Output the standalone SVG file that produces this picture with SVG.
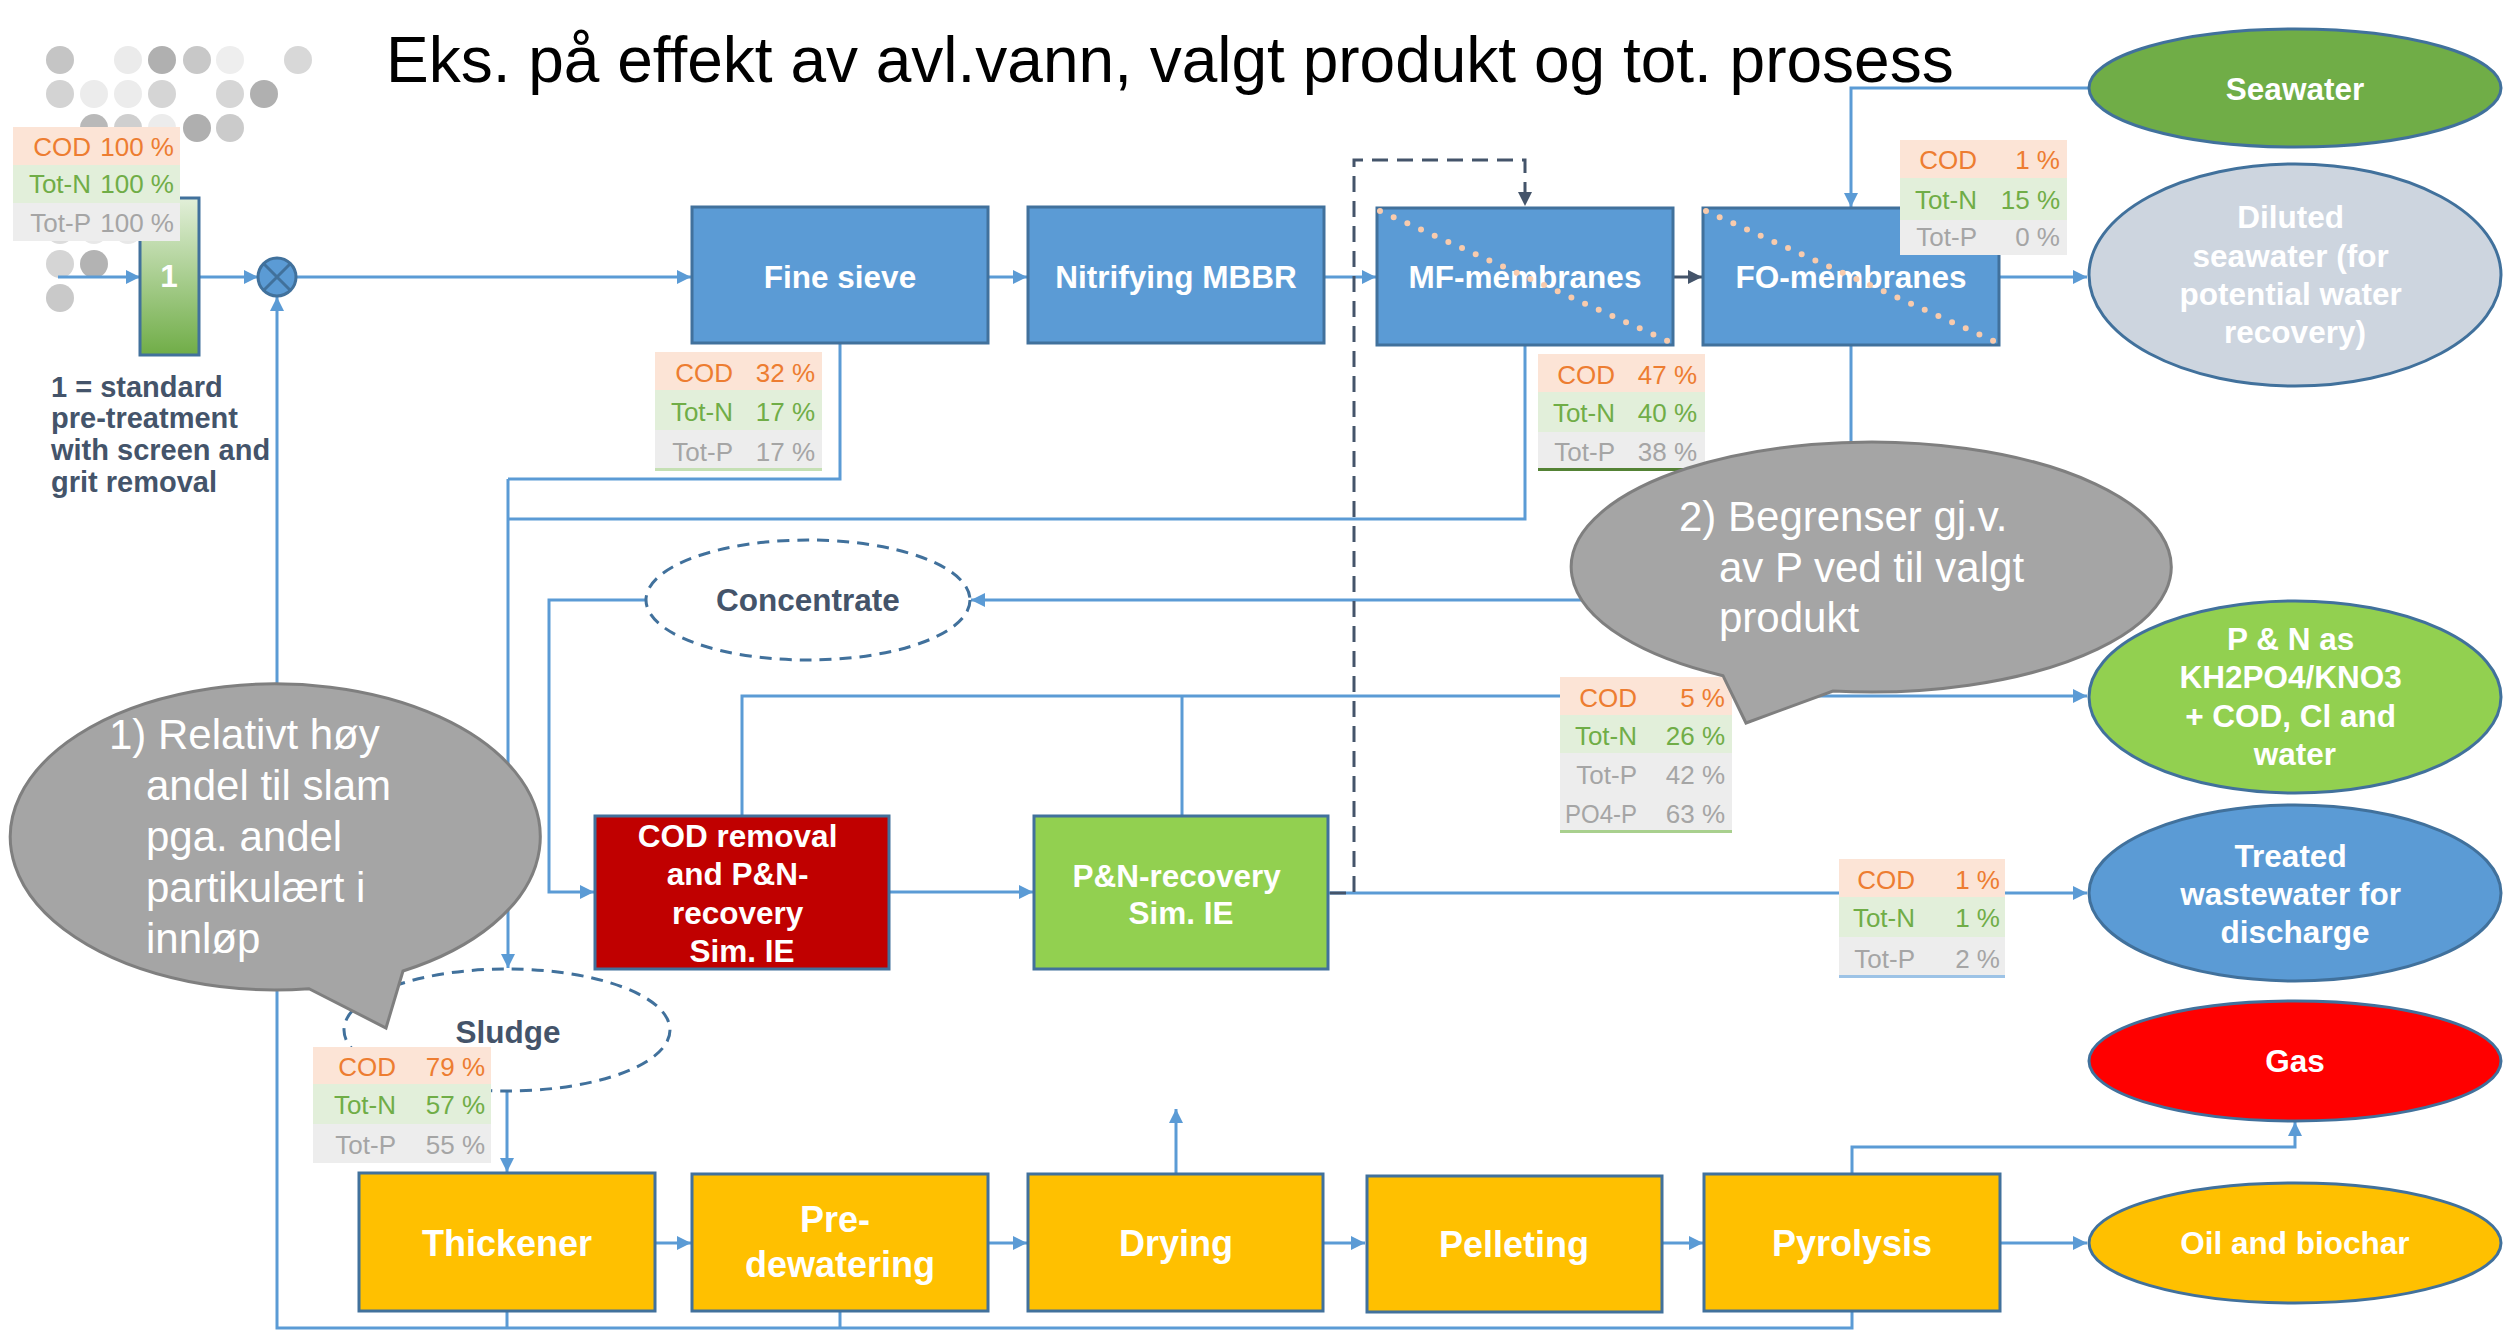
<svg xmlns="http://www.w3.org/2000/svg" width="2503" height="1332" viewBox="0 0 2503 1332">
<defs>
  <marker id="ah" viewBox="0 0 14 14" refX="14" refY="7" markerWidth="14" markerHeight="14" markerUnits="userSpaceOnUse" orient="auto">
    <path d="M0,0 L14,7 L0,14 z" fill="#5B9BD5"/>
  </marker>
  <marker id="ahd" viewBox="0 0 14 14" refX="14" refY="7" markerWidth="14" markerHeight="14" markerUnits="userSpaceOnUse" orient="auto">
    <path d="M0,0 L14,7 L0,14 z" fill="#44546A"/>
  </marker>
  <linearGradient id="pretreat" x1="0" y1="0" x2="0" y2="1">
    <stop offset="0" stop-color="#E2EFD9"/>
    <stop offset="1" stop-color="#70AD47"/>
  </linearGradient>
</defs>
<style>
  .ln{fill:none;stroke:#5B9BD5;stroke-width:3}
  .arr{marker-end:url(#ah)}
  .lnd{fill:none;stroke:#44546A;stroke-width:3}
  .arrd{marker-end:url(#ahd)}
  .dash{stroke-dasharray:16 9}
  .box{stroke:#41719C;stroke-width:3}
  .blue{fill:#5B9BD5}
  .red{fill:#C00000}
  .green{fill:#92D050}
  .dkgreen{fill:#70AD47}
  .yellow{fill:#FFC000}
  .grey{fill:#CDD5DF}
  .gas{fill:#FF0000}
  .t{font-family:"Liberation Sans",Arial,Helvetica,sans-serif;font-weight:bold;fill:#FFFFFF;text-anchor:middle;font-size:31.5px}
  .ty{font-size:36px}
  .tb text{font-family:"Liberation Sans",Arial,Helvetica,sans-serif;font-size:26px;text-anchor:end}
  .c1{fill:#FCE4D6}.c2{fill:#E2EFDA}.c3{fill:#EDEDED}
  .k1{fill:#ED7D31}.k2{fill:#70AD47}.k3{fill:#A5A5A5}
  .call{fill:#A5A5A5;stroke:#7F7F7F;stroke-width:3}
  .ct{font-family:"Liberation Sans",Arial,Helvetica,sans-serif;font-size:42px;fill:#FFFFFF}
  .dim{fill:#FFFFFF;stroke:#41719C;stroke-width:3;stroke-dasharray:12 8}
  .nt{font-family:"Liberation Sans",Arial,Helvetica,sans-serif;font-weight:bold;fill:#44546A;font-size:31.5px;text-anchor:middle}
  .diag{stroke:#F8CBAD;stroke-width:6;stroke-linecap:round;stroke-dasharray:0 15}
</style>

<rect width="2503" height="1332" fill="#FFFFFF"/>

<!-- decorative dot pattern -->
<g id="dots">
  <circle cx="60" cy="60" r="14" fill="#C5C5C5"/>
  <circle cx="128" cy="60" r="14" fill="#EBEBEB"/>
  <circle cx="162" cy="60" r="14" fill="#B0B0B0"/>
  <circle cx="197" cy="60" r="14" fill="#C8C8C8"/>
  <circle cx="230" cy="60" r="14" fill="#EEEEEE"/>
  <circle cx="298" cy="60" r="14" fill="#D8D8D8"/>
  <circle cx="60" cy="94" r="14" fill="#D3D3D3"/>
  <circle cx="94" cy="94" r="14" fill="#ECECEC"/>
  <circle cx="128" cy="94" r="14" fill="#ECECEC"/>
  <circle cx="162" cy="94" r="14" fill="#D5D5D5"/>
  <circle cx="230" cy="94" r="14" fill="#D6D6D6"/>
  <circle cx="264" cy="94" r="14" fill="#B0B0B0"/>
  <circle cx="94" cy="128" r="14" fill="#B9B9B9"/>
  <circle cx="128" cy="128" r="14" fill="#CFCFCF"/>
  <circle cx="162" cy="128" r="14" fill="#ECECEC"/>
  <circle cx="197" cy="128" r="14" fill="#AFAFAF"/>
  <circle cx="230" cy="128" r="14" fill="#CBCBCB"/>
  <circle cx="60" cy="230" r="14" fill="#DCDCDC"/>
  <circle cx="94" cy="230" r="14" fill="#E8E8E8"/>
  <circle cx="128" cy="230" r="14" fill="#E8E8E8"/>
  <circle cx="60" cy="264" r="14" fill="#D5D5D5"/>
  <circle cx="94" cy="264" r="14" fill="#B3B3B3"/>
  <circle cx="60" cy="298" r="14" fill="#C9C9C9"/>
</g>

<text x="386" y="82" font-family="'Liberation Sans',Arial,Helvetica,sans-serif" font-size="64" fill="#000000">Eks. på effekt av avl.vann, valgt produkt og tot. prosess</text>

<!-- flow connections -->
<g id="connectors">
  <path class="ln arr" d="M58,277 H140"/>
  <path class="ln arr" d="M199,277 H258"/>
  <path class="ln arr" d="M296,277 H691"/>
  <path class="ln arr" d="M988,277 H1027"/>
  <path class="ln arr" d="M1324,277 H1376"/>
  <path class="lnd arrd" d="M1673,277 H1702"/>
  <path class="ln arr" d="M1999,277 H2087"/>
  <path class="ln arr" d="M2088,88 H1851 V207"/>
  <path class="ln" d="M840,343 V479 H508"/>
  <path class="ln arr" d="M508,479 V968"/>
  <path class="ln" d="M508,519 H1525 V345"/>
  <path class="ln arr" d="M1851,345 V600 H971"/>
  <path class="ln arr" d="M646,600 H549 V892 H594"/>
  <path class="ln arr" d="M889,892 H1033"/>
  <path class="ln arr" d="M742,816 V696 H2087"/>
  <path class="ln" d="M1182,816 V696"/>
  <path class="ln arr" d="M1328,893 H2087"/>
  <path class="lnd dash arrd" d="M1330,893 H1354 V160 H1525 V206"/>
  <path class="ln arr" d="M507,1091 V1172"/>
  <path class="ln arr" d="M655,1243 H691"/>
  <path class="ln arr" d="M988,1243 H1027"/>
  <path class="ln arr" d="M1323,1243 H1365"/>
  <path class="ln arr" d="M1662,1243 H1703"/>
  <path class="ln arr" d="M2000,1243 H2087"/>
  <path class="ln arr" d="M1176,1173 V1109"/>
  <path class="ln arr" d="M1852,1174 V1147 H2295 V1122"/>
  <path class="ln arr" d="M1852,1311 V1328 H277 V297"/>
  <path class="ln" d="M507,1310 V1328"/>
  <path class="ln" d="M840,1311 V1328"/>
</g>

<!-- process units -->
<g id="n-pretreat">
  <rect class="box" x="140" y="198" width="59" height="157" fill="url(#pretreat)"/>
  <text class="t" x="169" y="287" font-size="29">1</text>
</g>
<g id="n-mixer">
  <circle cx="277" cy="277" r="19" fill="#5B9BD5" stroke="#41719C" stroke-width="3"/>
  <path d="M264,264 L290,290 M290,264 L264,290" stroke="#41719C" stroke-width="3"/>
</g>
<g id="n-pretreat-note">
  <text font-family="'Liberation Sans',Arial,Helvetica,sans-serif" font-weight="bold" font-size="29" fill="#44546A">
    <tspan x="51" y="397">1 = standard</tspan>
    <tspan x="51" y="428">pre-treatment</tspan>
    <tspan x="51" y="460">with screen and</tspan>
    <tspan x="51" y="492">grit removal</tspan>
  </text>
</g>
<g id="n-finesieve">
  <rect class="box blue" x="692" y="207" width="296" height="136"/>
  <text class="t" x="840" y="288">Fine sieve</text>
</g>
<g id="n-mbbr">
  <rect class="box blue" x="1028" y="207" width="296" height="136"/>
  <text class="t" x="1176" y="288">Nitrifying MBBR</text>
</g>
<g id="n-mf">
  <rect class="box blue" x="1377" y="208" width="296" height="137"/>
  <text class="t" x="1525" y="288">MF-membranes</text>
  <line class="diag" x1="1380" y1="211" x2="1670" y2="342"/>
</g>
<g id="n-fo">
  <rect class="box blue" x="1703" y="208" width="296" height="137"/>
  <text class="t" x="1851" y="288">FO-membranes</text>
  <line class="diag" x1="1706" y1="211" x2="1996" y2="342"/>
</g>
<g id="n-codremoval">
  <rect class="box red" x="595" y="816" width="294" height="153"/>
  <text class="t">
    <tspan x="742" y="847">COD removal</tspan>
    <tspan x="742" y="885">and P&amp;N-</tspan>
    <tspan x="742" y="924">recovery</tspan>
    <tspan x="742" y="962">Sim. IE</tspan>
  </text>
</g>
<g id="n-pnrecovery">
  <rect class="box green" x="1034" y="816" width="294" height="153"/>
  <text class="t">
    <tspan x="1181" y="887">P&amp;N-recovery</tspan>
    <tspan x="1181" y="924">Sim. IE</tspan>
  </text>
</g>
<g id="n-concentrate">
  <ellipse class="dim" cx="808" cy="600" rx="162" ry="60"/>
  <text class="nt" x="808" y="611">Concentrate</text>
</g>
<g id="n-sludge">
  <ellipse class="dim" cx="507" cy="1030" rx="163" ry="61"/>
  <text class="nt" x="508" y="1043">Sludge</text>
</g>
<g id="n-thickener">
  <rect class="box yellow" x="359" y="1173" width="296" height="138"/>
  <text class="t ty" x="507" y="1256">Thickener</text>
</g>
<g id="n-predewatering">
  <rect class="box yellow" x="692" y="1174" width="296" height="137"/>
  <text class="t ty">
    <tspan x="840" y="1232">Pre-</tspan>
    <tspan x="840" y="1277">dewatering</tspan>
  </text>
</g>
<g id="n-drying">
  <rect class="box yellow" x="1028" y="1174" width="295" height="137"/>
  <text class="t ty" x="1176" y="1256">Drying</text>
</g>
<g id="n-pelleting">
  <rect class="box yellow" x="1367" y="1176" width="295" height="136"/>
  <text class="t ty" x="1514" y="1257">Pelleting</text>
</g>
<g id="n-pyrolysis">
  <rect class="box yellow" x="1704" y="1174" width="296" height="137"/>
  <text class="t ty" x="1852" y="1256">Pyrolysis</text>
</g>

<!-- products -->
<g id="n-seawater">
  <ellipse class="box dkgreen" cx="2295" cy="88" rx="206" ry="59"/>
  <text class="t" x="2295" y="100">Seawater</text>
</g>
<g id="n-diluted">
  <ellipse class="box grey" cx="2295" cy="275" rx="206" ry="111"/>
  <text class="t">
    <tspan x="2295" y="228">Diluted</tspan>
    <tspan x="2295" y="267">seawater (for</tspan>
    <tspan x="2295" y="305">potential water</tspan>
    <tspan x="2295" y="343">recovery)</tspan>
  </text>
</g>
<g id="n-pn-product">
  <ellipse class="box green" cx="2295" cy="697" rx="206" ry="96"/>
  <text class="t">
    <tspan x="2295" y="650">P &amp; N as</tspan>
    <tspan x="2295" y="688">KH2PO4/KNO3</tspan>
    <tspan x="2295" y="727">+ COD, Cl and</tspan>
    <tspan x="2295" y="765">water</tspan>
  </text>
</g>
<g id="n-treated">
  <ellipse class="box blue" cx="2295" cy="893" rx="206" ry="88"/>
  <text class="t">
    <tspan x="2295" y="867">Treated</tspan>
    <tspan x="2295" y="905">wastewater for</tspan>
    <tspan x="2295" y="943">discharge</tspan>
  </text>
</g>
<g id="n-gas">
  <ellipse class="box gas" cx="2295" cy="1061" rx="206" ry="60"/>
  <text class="t" x="2295" y="1072">Gas</text>
</g>
<g id="n-oil">
  <ellipse class="box yellow" cx="2295" cy="1243" rx="206" ry="60"/>
  <text class="t" x="2295" y="1254">Oil and biochar</text>
</g>

<!-- mass balance tables -->
<g id="tab-inlet" class="tb" transform="translate(13,127)">
  <rect class="c1" width="167" height="38"/><rect class="c2" y="38" width="167" height="38"/><rect class="c3" y="76" width="167" height="38"/>
  <text class="k1" x="78" y="29">COD</text><text class="k1" x="161" y="29">100 %</text>
  <text class="k2" x="78" y="66">Tot-N</text><text class="k2" x="161" y="66">100 %</text>
  <text class="k3" x="78" y="105">Tot-P</text><text class="k3" x="161" y="105">100 %</text>
</g>
<g id="tab-finesieve" class="tb" transform="translate(655,352)">
  <rect class="c1" width="167" height="38"/><rect class="c2" y="38" width="167" height="40"/><rect class="c3" y="78" width="167" height="40"/>
  <rect y="116" width="167" height="3" fill="#C5E0B4"/>
  <text class="k1" x="78" y="30">COD</text><text class="k1" x="160" y="30">32 %</text>
  <text class="k2" x="78" y="69">Tot-N</text><text class="k2" x="160" y="69">17 %</text>
  <text class="k3" x="78" y="109">Tot-P</text><text class="k3" x="160" y="109">17 %</text>
</g>
<g id="tab-mf" class="tb" transform="translate(1538,354)">
  <rect class="c1" width="167" height="38"/><rect class="c2" y="38" width="167" height="40"/><rect class="c3" y="78" width="167" height="38"/>
  <rect y="114" width="167" height="3" fill="#548235"/>
  <text class="k1" x="77" y="30">COD</text><text class="k1" x="159" y="30">47 %</text>
  <text class="k2" x="77" y="68">Tot-N</text><text class="k2" x="159" y="68">40 %</text>
  <text class="k3" x="77" y="107">Tot-P</text><text class="k3" x="159" y="107">38 %</text>
</g>
<g id="tab-fo" class="tb" transform="translate(1900,140)">
  <rect class="c1" width="167" height="38"/><rect class="c2" y="38" width="167" height="42"/><rect class="c3" y="80" width="167" height="35"/>
  <text class="k1" x="77" y="29">COD</text><text class="k1" x="160" y="29">1 %</text>
  <text class="k2" x="77" y="69">Tot-N</text><text class="k2" x="160" y="69">15 %</text>
  <text class="k3" x="77" y="106">Tot-P</text><text class="k3" x="160" y="106">0 %</text>
</g>
<g id="tab-product" class="tb" transform="translate(1560,677)">
  <rect class="c1" width="172" height="38"/><rect class="c2" y="38" width="172" height="38"/><rect class="c3" y="76" width="172" height="78"/>
  <rect y="153" width="172" height="3" fill="#A9D08E"/>
  <text class="k1" x="77" y="30">COD</text><text class="k1" x="165" y="30">5 %</text>
  <text class="k2" x="77" y="68">Tot-N</text><text class="k2" x="165" y="68">26 %</text>
  <text class="k3" x="77" y="107">Tot-P</text><text class="k3" x="165" y="107">42 %</text>
  <text class="k3" x="77" y="146" textLength="72" lengthAdjust="spacingAndGlyphs">PO4-P</text><text class="k3" x="165" y="146">63 %</text>
</g>
<g id="tab-treated" class="tb" transform="translate(1839,859)">
  <rect class="c1" width="166" height="38"/><rect class="c2" y="38" width="166" height="40"/><rect class="c3" y="78" width="166" height="38"/>
  <rect y="116" width="166" height="3" fill="#9DC3E6"/>
  <text class="k1" x="76" y="30">COD</text><text class="k1" x="161" y="30">1 %</text>
  <text class="k2" x="76" y="68">Tot-N</text><text class="k2" x="161" y="68">1 %</text>
  <text class="k3" x="76" y="109">Tot-P</text><text class="k3" x="161" y="109">2 %</text>
</g>
<g id="tab-sludge" class="tb" transform="translate(313,1047)">
  <rect class="c1" width="178" height="37"/><rect class="c2" y="37" width="178" height="40"/><rect class="c3" y="77" width="178" height="39"/>
  <text class="k1" x="83" y="29">COD</text><text class="k1" x="172" y="29">79 %</text>
  <text class="k2" x="83" y="67">Tot-N</text><text class="k2" x="172" y="67">57 %</text>
  <text class="k3" x="83" y="107">Tot-P</text><text class="k3" x="172" y="107">55 %</text>
</g>

<!-- speech bubbles -->
<g id="callout-1">
  <path class="call" d="M309,988.7 A265,153 0 1 1 403,971 L386,1028 Z"/>
  <text class="ct">
    <tspan x="109" y="749">1) Relativt høy</tspan>
    <tspan x="146" y="800">andel til slam</tspan>
    <tspan x="146" y="851">pga. andel</tspan>
    <tspan x="146" y="902">partikulært i</tspan>
    <tspan x="146" y="953">innløp</tspan>
  </text>
</g>
<g id="callout-2">
  <path class="call" d="M1723,675.7 A300,125 0 1 1 1833,691 L1746,723 Z"/>
  <text class="ct">
    <tspan x="1679" y="531">2) Begrenser gj.v.</tspan>
    <tspan x="1719" y="582">av P ved til valgt</tspan>
    <tspan x="1719" y="632">produkt</tspan>
  </text>
</g>
</svg>
